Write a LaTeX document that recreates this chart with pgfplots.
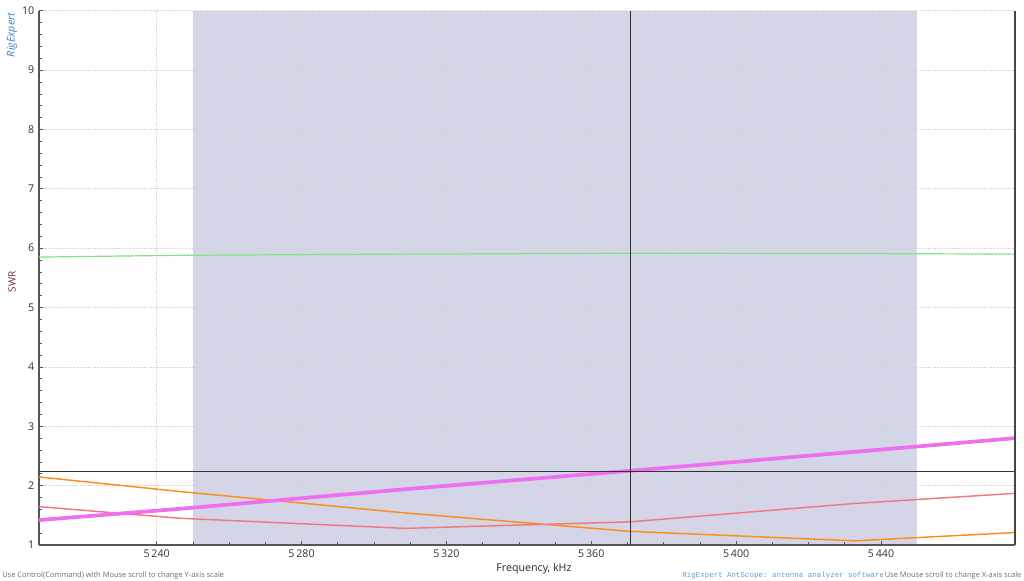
\documentclass[border=0pt]{standalone}
\usepackage{fontspec}
\setmainfont{Open Sans}
\setmonofont{Liberation Mono}
\usepackage{pgfplots}
\pgfplotsset{compat=1.18}

\definecolor{bandcol}{HTML}{D4D6E8}
\definecolor{swrorange}{HTML}{FF8C1E}
\definecolor{swrred}{HTML}{F07880}
\definecolor{swrmag}{HTML}{EE70EE}
\definecolor{swrgreen}{HTML}{80E480}
\definecolor{axisgray}{HTML}{555555}
\definecolor{labelcol}{HTML}{333333}
\definecolor{swrlab}{HTML}{6B2A3A}
\definecolor{logoblue}{HTML}{3A80C4}

\begin{document}
\begin{tikzpicture}
% page = 1024 x 581 px at 0.75pt per px, axis box at (39..1015, 10.7..545)
\begin{axis}[
  at={(0,0)}, anchor=south west,
  scale only axis,
  width=732pt, height=400.7pt,
  set layers,
  xmin=5207.5, xmax=5477,
  ymin=1, ymax=10,
  xtick={5240,5280,...,5440},
  ytick={1,2,...,10},
  minor x tick num=3,
  minor y tick num=4,
  axis lines*=left,
  axis line style={axisgray, line width=0.8pt},
  major tick length=3pt,
  minor tick length=2pt,
  tick style={axisgray, line width=0.5pt},
  grid=major,
  major grid style={densely dotted, gray!35, line width=0.5pt},
  ticklabel style={font=\fontsize{8}{9}\selectfont, text=labelcol},
  /pgf/number format/assume math mode=true,
  x tick label style={/pgf/number format/1000 sep={\,}},
  y tick label style={/pgf/number format/1000 sep={}},
]
% band 5250..5450 kHz
\addplot[fill=bandcol, draw=none, on layer=axis background, forget plot]
  coordinates {(5250,1) (5450,1) (5450,10) (5250,10)} -- cycle;

% green
\addplot[swrgreen, line width=0.9pt] coordinates {
  (5207.5,5.85) (5246.5,5.88) (5308.6,5.90) (5370.7,5.915) (5432.8,5.91) (5477,5.90)};
% orange
\addplot[swrorange, line width=1.1pt] coordinates {
  (5207.5,2.146) (5246.5,1.90) (5308.6,1.54) (5370.7,1.23) (5432.8,1.07) (5477,1.21)};
% red
\addplot[swrred, line width=1.1pt] coordinates {
  (5207.5,1.646) (5246.5,1.45) (5308.6,1.28) (5370.7,1.39) (5432.8,1.70) (5477,1.87)};
% magenta
\addplot[swrmag, line width=2.8pt] coordinates {
  (5207.5,1.42) (5246.5,1.61) (5308.6,1.94) (5370.7,2.25) (5432.8,2.57) (5477,2.80)};

% cursor lines
\addplot[black!80, line width=0.7pt] coordinates {(5370.7,1) (5370.7,10)};
\addplot[black!80, line width=0.7pt] coordinates {(5207.5,2.247) (5477,2.247)};
\end{axis}

% right border
\draw[axisgray!80!black, line width=1.5pt] (732pt,0) -- (732pt,400.7pt);

% texts
\node[rotate=90, text=logoblue, font=\fontsize{8}{9}\selectfont\itshape]
  at (-20.25pt,382.5pt) {RigExpert};
\node[rotate=90, text=swrlab, font=\fontsize{7.5}{8}\selectfont]
  at (-20.25pt,197.25pt) {SWR};
\node[text=black!85, font=\fontsize{8}{9}\selectfont]
  at (371.25pt,-18pt) {Frequency, kHz};
\node[anchor=west, inner sep=0pt, text=gray!85!black, font=\fontsize{5.6}{6}\selectfont]
  at (-27.75pt,-23.25pt) {Use Control(Command) with Mouse scroll to change Y-axis scale};
\node[anchor=east, inner sep=0pt, text=logoblue!80, font=\fontsize{5.6}{6}\selectfont\ttfamily]
  at (634pt,-23.25pt) {RigExpert AntScope: antenna analyzer software};
\node[anchor=east, inner sep=0pt, text=gray!85!black, font=\fontsize{5.6}{6}\selectfont]
  at (737pt,-23.25pt) {Use Mouse scroll to change X-axis scale};

% page frame
\path (-29.25pt,-27pt) rectangle (738.75pt,408.75pt);
\end{tikzpicture}
\end{document}
